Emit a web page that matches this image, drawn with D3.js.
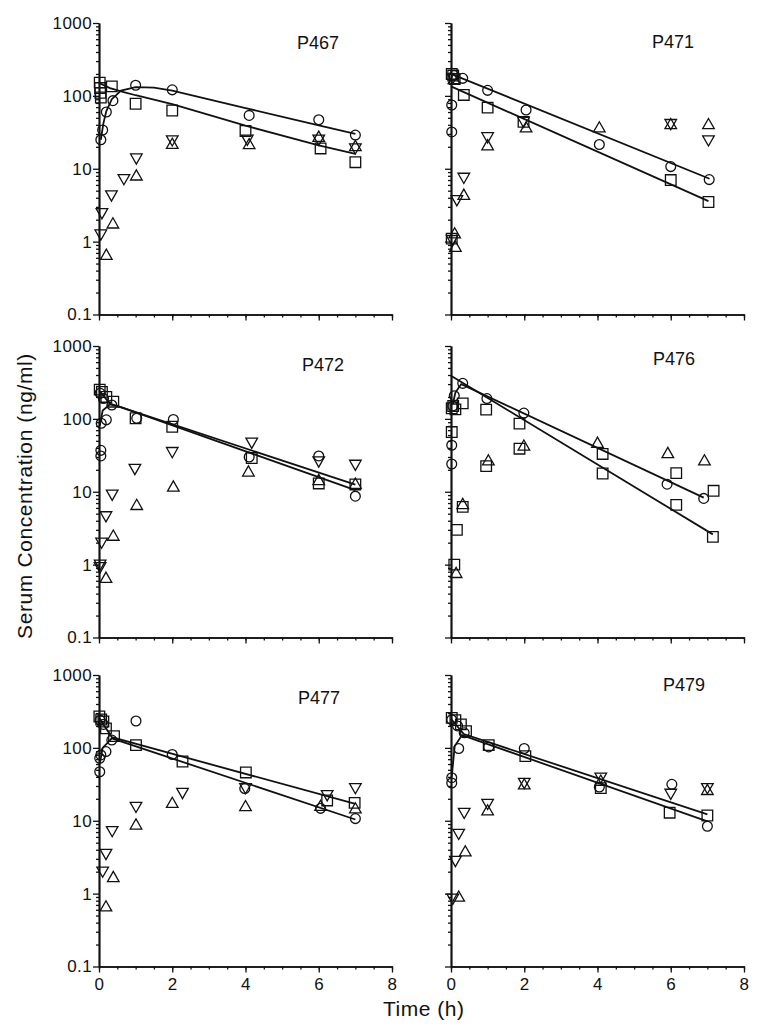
<!DOCTYPE html>
<html><head><meta charset="utf-8">
<script src="https://cdn.jsdelivr.net/npm/d3@7/dist/d3.min.js"></script>
<style>body{margin:0;background:#fff}text{font-family:"Liberation Sans",Arial,sans-serif;fill:#111}</style>
</head><body>
<svg id="chart" width="761" height="1033"></svg>
<script>
// ---------- DATA (time in h, concentration in ng/ml) ----------
const panelNames = ["P467", "P471", "P472", "P476", "P477", "P479"];
const xTickLabels = [0, 2, 4, 6, 8];
const yTickLabels = [0.1, 1, 10, 100, 1000];

const circles = [
  [[0.05,25],[0.1,34],[0.2,60],[0.38,86],[1,140],[2,121],[4.1,54],[6,47],[7,29]],
  [[0.02,75],[0.02,32],[0.08,190],[0.32,174],[1,119],[2.05,64],[4.05,21.5],[6,10.7],[7.05,7.1]],
  [[0.05,31],[0.05,37],[0.06,87],[0.2,97],[0.03,225],[0.12,190],[0.35,155],[1.03,102],[2.03,98],[4.1,30],[6,31],[7,8.7]],
  [[0.02,24],[0.02,43.5],[0.05,150],[0.09,208],[0.32,307],[0.98,190],[1.99,120],[5.9,12.7],[6.9,8.1]],
  [[0.02,47],[0.02,72],[0.05,80],[0.19,89],[0.03,240],[0.12,210],[0.35,128],[1.01,234],[2,81],[3.98,27.6],[6.05,14.8],[7,10.7]],
  [[0.02,33],[0.02,39],[0.21,98],[0.02,244],[0.18,200],[0.36,161],[1.03,103],[2,98],[4.05,29],[6.03,31.6],[7,8.4]]
];
const squares = [
  [[0.02,152],[0.03,128],[0.04,110],[0.05,95],[0.35,135],[1,78],[2,63],[4,33],[6.05,19],[7,12.3]],
  [[0.02,200],[0.06,190],[0.1,170],[0.35,103],[1,69],[1.98,44],[6,7],[7.03,3.5],[0.02,1.1]],
  [[0.02,252],[0.08,235],[0.2,200],[0.39,172],[1,102],[2,78],[4.17,29],[6,13],[7,12.6]],
  [[0.02,66],[0.02,140],[0.06,150],[0.12,135],[0.32,163],[0.96,134],[1.87,86],[1.87,39],[0.96,22.5],[0.32,6.2],[0.16,3.0],[0.09,1.0],[4.14,33],[4.14,17.8],[6.15,18],[6.15,6.6],[7.17,10.3],[7.15,2.4]],
  [[0.01,270],[0.06,245],[0.12,230],[0.19,185],[0.41,145],[1.01,109],[2.28,65],[4.01,46],[6.23,19],[6.98,17.6]],
  [[0.02,258],[0.12,240],[0.27,210],[0.41,170],[1.03,109],[2.03,77],[4.09,28],[5.97,12.9],[7,11.8]]
];
const trianglesUp = [
  [[0.2,0.66],[0.38,1.78],[1.02,8.1],[2,22],[4.1,21.8],[6,27.5],[7,20.5]],
  [[0.1,1.3],[0.12,0.85],[0.35,4.4],[1,21],[2.05,37],[4.05,37],[6,41],[7.03,41],[0.08,170]],
  [[0.19,0.66],[0.39,2.5],[1.03,6.6],[2.03,11.8],[4.08,19],[6,14.5],[7,12.9]],
  [[0.14,0.77],[0.32,6.8],[1.02,27],[1.99,43],[4.0,47],[5.92,34],[6.92,27]],
  [[0.19,0.67],[0.39,1.69],[1.01,8.9],[2,17.6],[4,15.9],[6.05,16],[7,14.8]],
  [[0.21,0.91],[0.39,3.8],[1,13.9],[2,31.6],[4.09,35.5],[7,26.5]]
];
const trianglesDown = [
  [[0.05,1.25],[0.08,2.45],[0.34,4.3],[0.68,7.2],[1.02,13.8],[2,24.5],[4.05,25],[6,25],[7,19]],
  [[0.03,1.05],[0.16,3.7],[0.35,7.5],[1,27],[1.98,44],[6,41],[7.03,24.5],[0.05,175]],
  [[0.03,1.0],[0.03,0.92],[0.07,2.0],[0.19,4.6],[0.36,9.1],[0.98,20.5],[2,35],[4.17,47],[6,26],[7,23.4]],
  [],
  [[0.1,2.0],[0.19,3.5],[0.36,7.2],[1.01,15.5],[2.28,24],[4,28],[6.23,22.4],[7,28]],
  [[0.05,0.85],[0.12,2.8],[0.21,6.6],[0.36,12.8],[1,17],[2,33],[4.09,39],[6,23.4],[7,28]]
];
const circleFit = [
  [[0.05,25],[0.12,42],[0.2,62],[0.35,90],[0.6,118],[1,132],[1.5,130],[2,118],[4,68],[6,39.5],[7,30]],
  [[0,200],[7.06,7.3]],
  [[0.02,80],[0.1,130],[0.3,158],[0.6,145],[7,10.5]],
  [[0.05,160],[0.12,230],[0.28,300],[6.9,8.3]],
  [[0.02,60],[0.1,100],[0.35,135],[7,10.4]],
  [[0.02,40],[0.1,105],[0.3,150],[7,9.8]]
];
const squareFit = [
  [[0,150],[0.3,128],[0.7,112],[1,102],[2,77],[4,39],[6,21],[7,16]],
  [[0,135],[7.03,3.6]],
  [[0,245],[0.3,162],[7,12.5]],
  [[0,390],[7.15,2.6]],
  [[0,260],[0.35,140],[7,17]],
  [[0,250],[0.35,155],[7,12.2]]
];

// ---------- LAYOUT ----------
const colX = [99, 451];
const rowTop = [23, 346, 675];
const PW = 293, PH = 291.5;
const labelOffset = [[198,26],[201,25],[203,25],[202,19],[199,29],[212,16]];
const ink = "#111";

const svg = d3.select("#chart");

const shapes = {
  up: "M0,-5.6L5.8,4.6L-5.8,4.6Z",
  down: "M-5.8,-4.6L5.8,-4.6L0,5.6Z",
  square: "M-5.3,-5.3H5.3V5.3H-5.3Z"
};

const minorY = [];
[0.1, 1, 10, 100].forEach(d => { for (let k = 2; k <= 9; k++) minorY.push(d * k); });
const minorX = d3.range(0, 8.01, 0.5);

panelNames.forEach((name, i) => {
  const col = i % 2, row = Math.floor(i / 2);
  const x = d3.scaleLinear().domain([0, 8]).range([colX[col], colX[col] + PW]);
  const y = d3.scaleLog().domain([0.1, 1000]).range([rowTop[row] + PH, rowTop[row]]);
  const g = svg.append("g");

  // axes
  const yMinor = d3.axisLeft(y).tickValues(minorY).tickSize(3).tickFormat("").tickSizeOuter(0);
  const yMajor = d3.axisLeft(y).tickValues(yTickLabels).tickSize(6).tickPadding(1).tickSizeOuter(0)
    .tickFormat(col === 0 ? (d => d >= 1 ? d3.format("d")(d) : String(d)) : "");
  const xMinor = d3.axisBottom(x).tickValues(minorX).tickSize(3).tickFormat("").tickSizeOuter(0);
  const xMajor = d3.axisBottom(x).tickValues(xTickLabels).tickSize(6).tickPadding(5).tickSizeOuter(0)
    .tickFormat(row === 2 ? d3.format("d") : "");

  [[yMinor, "y"], [yMajor, "y"], [xMinor, "x"], [xMajor, "x"]].forEach(([ax, t]) => {
    const a = g.append("g")
      .attr("transform", t === "y" ? `translate(${x(0)},0)` : `translate(0,${y(0.1)})`)
      .call(ax);
    a.selectAll("path.domain").attr("stroke", ink).attr("stroke-width", 1.7);
    a.selectAll(".tick line").attr("stroke", ink).attr("stroke-width", 1.3);
    a.selectAll(".tick text").attr("fill", ink).style("font-size", "17px")
      .style("font-family", '"Liberation Sans", Arial, sans-serif').style("letter-spacing", "0.4px");
  });

  // fitted lines
  const line = d3.line().x(d => x(d[0])).y(d => y(d[1]));
  [circleFit[i], squareFit[i]].forEach(pts => {
    g.append("path").attr("d", line(pts)).attr("fill", "none")
      .attr("stroke", ink).attr("stroke-width", 1.8);
  });

  // markers
  g.selectAll(null).data(circles[i]).join("circle")
    .attr("cx", d => x(d[0])).attr("cy", d => y(d[1])).attr("r", 4.9)
    .attr("fill", "none").attr("stroke", ink).attr("stroke-width", 1.3);
  [[squares[i], shapes.square], [trianglesUp[i], shapes.up], [trianglesDown[i], shapes.down]].forEach(([pts, p]) => {
    g.selectAll(null).data(pts).join("path")
      .attr("d", p).attr("transform", d => `translate(${x(d[0])},${y(d[1])})`)
      .attr("fill", "none").attr("stroke", ink).attr("stroke-width", 1.3);
  });

  // panel label
  g.append("text").attr("x", x(0) + labelOffset[i][0]).attr("y", rowTop[row] + labelOffset[i][1])
    .style("font-size", "18px").text(name);
});

// axis titles
svg.append("text")
  .attr("transform", "translate(32,496) rotate(-90)")
  .attr("text-anchor", "middle")
  .style("font-size", "21px").style("letter-spacing", "0.6px")
  .text("Serum Concentration  (ng/ml)");
svg.append("text")
  .attr("x", 383).attr("y", 1016)
  .style("font-size", "21px").style("letter-spacing", "0.5px")
  .text("Time  (h)");
</script>
</body></html>
